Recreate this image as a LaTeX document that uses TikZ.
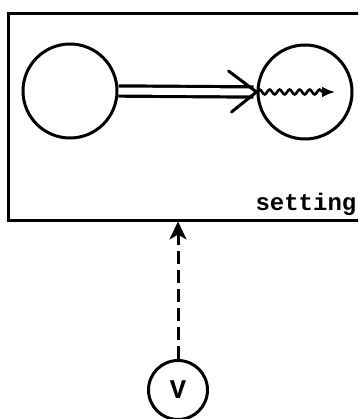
\documentclass[tikz,border=0pt]{standalone}
\usepackage{fontspec}
\newfontfamily\typer{Liberation Mono}
\usetikzlibrary{arrows.meta, positioning, calc, decorations.pathmorphing}
\tikzstyle{state} = [circle, draw=black, line width=3pt, minimum size=94pt, inner sep=0pt]
\tikzstyle{valve} = [circle, draw=black, line width=3pt, minimum size=59pt, inner sep=0pt, font=\typer\bfseries\fontsize{27}{30}\selectfont]
\tikzstyle{frame} = [rectangle, draw=black, line width=3pt, minimum width=362pt, minimum height=206pt, inner sep=0pt]
\tikzstyle{transfer} = [line width=3.2pt, double=white, double distance=7pt]
\tikzstyle{arrow} = [line width=3pt, -{Stealth[length=18pt, width=17pt, inset=5pt]}]

\begin{document}
\begin{tikzpicture}[x=1pt, y=-1pt]
\useasboundingbox (0,0) rectangle (358,419);
\clip (0,0) rectangle (358,419);

% Setting box
\node (setting) [frame] at (189,117) {};
\node (label) [anchor=base west, font=\typer\bfseries\fontsize{24}{28}\selectfont] at (252,211) {setting};

% States inside the setting
\node (src) [state] at (70,91) {};
\node (dst) [state] at (305,92) {};

% Double arrow between the states
\coordinate (tip) at (dst.west);
\draw [transfer] (src.east) -- ($(tip)+(-3,0)$);
\draw [line width=3pt, line cap=round] ($(tip)+(-28,-21)$) -- (tip) -- ($(tip)+(-25,20)$);

% Wavy arrow inside the target state
\draw [line width=2.6pt, -{Latex[length=13pt, width=11pt]},
  decorate, decoration={snake, amplitude=2.4pt, segment length=10pt, post length=11pt}]
  (tip) -- ($(dst.center)+(30,0)$);

% Input from below
\node (v) [valve] at (178,390) {V};
\draw [arrow, dash pattern=on 13pt off 6pt] (v.north) -- (v.north |- setting.south);

\end{tikzpicture}
\end{document}
